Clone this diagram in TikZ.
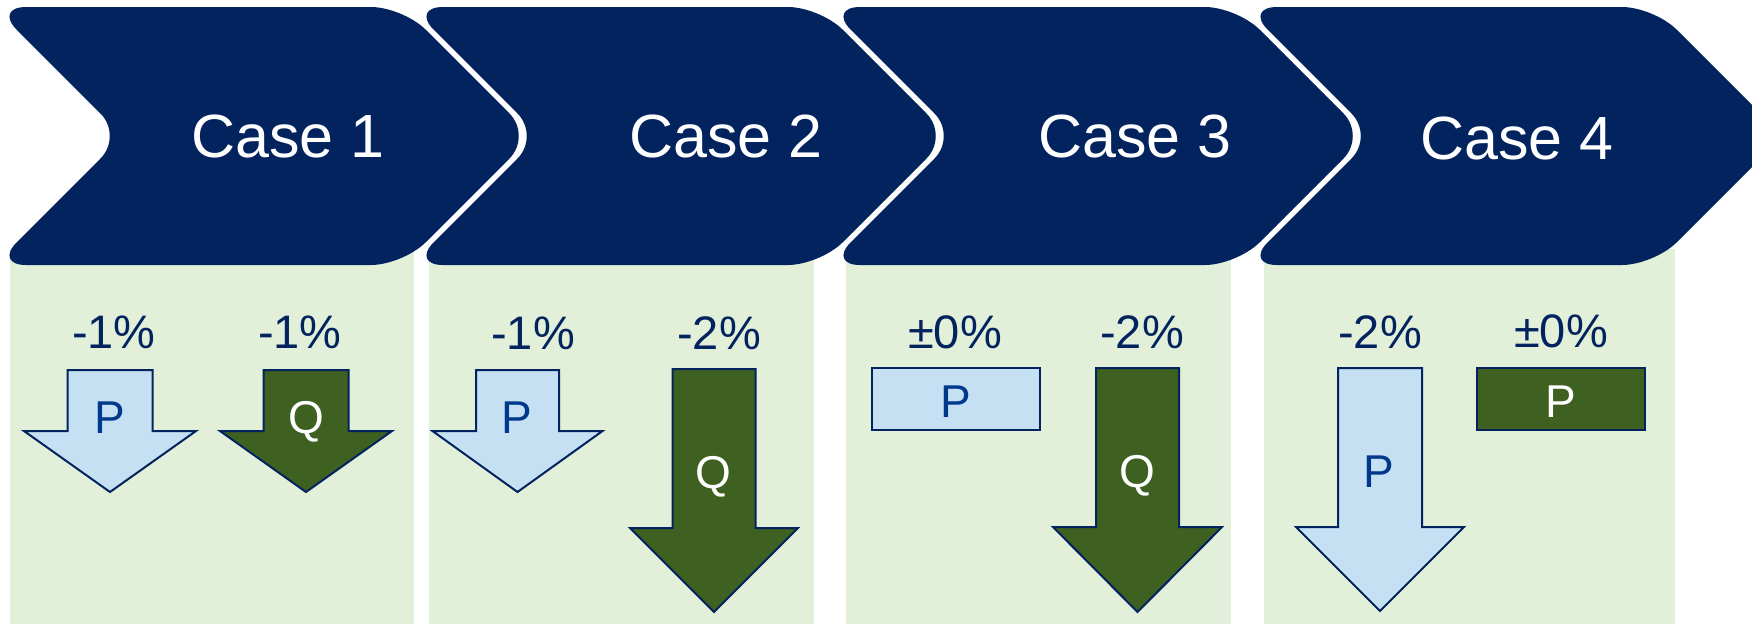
\documentclass[tikz,border=0pt]{standalone}
\usepackage{fontspec}
\setmainfont{Liberation Sans}

\definecolor{navy}{RGB}{2,35,94}
\definecolor{panelgreen}{RGB}{226,240,217}
\definecolor{paleblue}{RGB}{197,224,242}
\definecolor{leafgreen}{RGB}{62,96,33}
\definecolor{letterblue}{RGB}{0,56,140}

% Down-pointing block arrow: #1 style, #2 centre x, #3 top y,
% #4 shaft half width, #5 head start y, #6 head half width, #7 tip y
\newcommand{\dnarrow}[7]{%
  \draw[#1] (#2-#4,#3) -- (#2+#4,#3) -- (#2+#4,#5) -- (#2+#6,#5)
    -- (#2,#7) -- (#2-#6,#5) -- (#2-#4,#5) -- cycle;}

\begin{document}
\begin{tikzpicture}[x=1pt,y=-1pt,
  panel/.style={fill=panelgreen},
  chevron/.style={fill=navy, rounded corners=32pt},
  casetext/.style={text=white, inner sep=0pt, anchor=base,
    font=\fontsize{61}{70}\selectfont},
  pct/.style={text=navy, inner sep=0pt, anchor=base,
    font=\fontsize{47}{54}\selectfont},
  lettertext/.style={inner sep=0pt, anchor=base,
    font=\fontsize{46}{52}\selectfont},
  pbox/.style={fill=paleblue, draw=navy, line width=2pt, line join=miter},
  qbox/.style={fill=leafgreen, draw=navy, line width=2pt, line join=miter}]

\useasboundingbox (0,0) rectangle (1752,624);
\clip (0,0) rectangle (1752,624);

% background panels below the chevrons
\fill[panel] (10,249) rectangle (414,624);
\fill[panel] (429,249) rectangle (814,624);
\fill[panel] (846,249) rectangle (1231,624);
\fill[panel] (1264,249) rectangle (1675,624);

% process chevrons
\foreach \L in {-6,411,828,1245}
  \fill[chevron] (\L,7) -- (\L+409,7) -- (\L+538,136) -- (\L+409,265)
    -- (\L,265) -- (\L+129,136) -- cycle;

\node[casetext] (case1) at (288,157) {Case 1};
\node[casetext] (case2) at (726,157) {Case 2};
\node[casetext] (case3) at (1135,157) {Case 3};
\node[casetext] (case4) at (1517,159) {Case 4};

% Case 1
\node[pct] (c1p) at (114,348) {-1\%};
\node[pct] (c1q) at (300,348) {-1\%};
\dnarrow{pbox}{110}{370}{42.5}{431}{86}{492}
\dnarrow{qbox}{306}{370}{42.5}{431}{86}{492}
\node[lettertext, text=letterblue] (c1pl) at (110,433) {P};
\node[lettertext, text=white] (c1ql) at (306,433) {Q};

% Case 2
\node[pct] (c2p) at (533,349) {-1\%};
\node[pct] (c2q) at (719,349) {-2\%};
\dnarrow{pbox}{517.5}{370}{41.5}{431}{85}{492}
\dnarrow{qbox}{714}{369}{41.5}{528}{84}{612}
\node[lettertext, text=letterblue] (c2pl) at (517,433) {P};
\node[lettertext, text=white] (c2ql) at (713,488) {Q};

% Case 3
\node[pct] (c3p) at (955,348) {±0\%};
\node[pct] (c3q) at (1142,348) {-2\%};
\draw[pbox] (872,368) rectangle (1040,430);
\dnarrow{qbox}{1137.5}{368}{41.5}{527}{84.5}{612}
\node[lettertext, text=letterblue] (c3pl) at (956,417) {P};
\node[lettertext, text=white] (c3ql) at (1137,487) {Q};

% Case 4
\node[pct] (c4p) at (1380,348) {-2\%};
\node[pct] (c4q) at (1561,347) {±0\%};
\dnarrow{pbox}{1380}{368}{42}{527}{84}{611}
\draw[qbox] (1477,368) rectangle (1645,430);
\node[lettertext, text=letterblue] (c4pl) at (1379,487) {P};
\node[lettertext, text=white] (c4ql) at (1561,417) {P};

\end{tikzpicture}
\end{document}
